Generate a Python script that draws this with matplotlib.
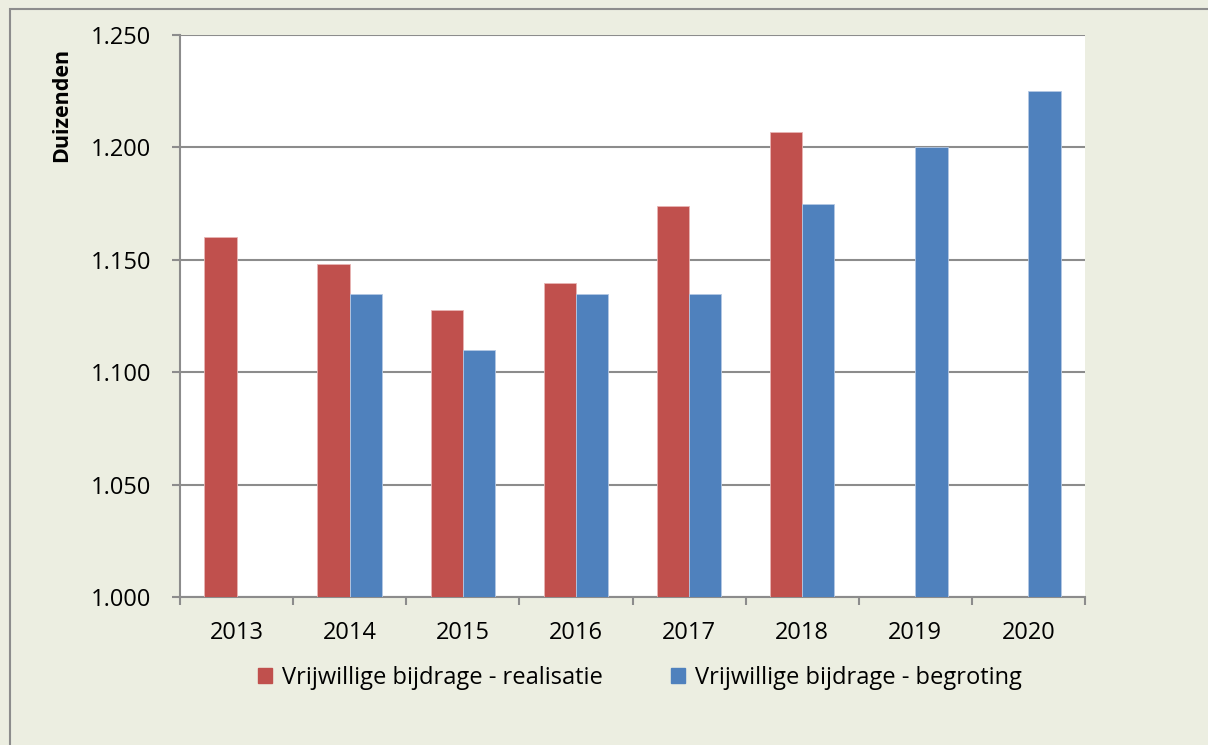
import matplotlib
matplotlib.use("Agg")
from matplotlib import pyplot as plt
import matplotlib.patches as mpatches
import numpy as np

years = ["2013", "2014", "2015", "2016", "2017", "2018", "2019", "2020"]
realisatie = [1.160, 1.148, 1.1275, 1.1395, 1.174, 1.207, np.nan, np.nan]
begroting = [np.nan, 1.135, 1.110, 1.135, 1.135, 1.175, 1.200, 1.225]
yticks = [1.000, 1.050, 1.100, 1.150, 1.200, 1.250]
ytick_labels = ["1.000", "1.050", "1.100", "1.150", "1.200", "1.250"]

plt.rcParams["font.family"] = ["Open Sans", "DejaVu Sans"]
bg = "#ECEEE1"
red = "#C0504D"
blue = "#4F81BD"

fig = plt.figure(figsize=(12.08, 7.45), dpi=100, facecolor=bg)
# border of the chart area
fig.add_artist(mpatches.Rectangle((10 / 1208, -0.1), 1.2, 1 - 9 / 745 + 0.1,
                                  transform=fig.transFigure, fill=False,
                                  edgecolor="#8C8C8C", lw=1.5))

ax = fig.add_axes([180 / 1208, 1 - 597 / 745, 905 / 1208, 562 / 745])
ax.set_facecolor("white")

x = np.arange(len(years))
w = 0.285
ax.bar(x - w / 2, realisatie, w, color=red, edgecolor="#E8B5B4", lw=0.6,
       zorder=3, label="Vrijwillige bijdrage - realisatie")
ax.bar(x + w / 2, begroting, w, color=blue, edgecolor="#B4C8E4", lw=0.6,
       zorder=3, label="Vrijwillige bijdrage - begroting")

ax.set_ylim(1.0, 1.25)
ax.set_xlim(-0.5, len(years) - 0.5)
ax.set_yticks(yticks)
ax.set_yticklabels(ytick_labels)
ax.yaxis.grid(True, color="#8C8C8C", lw=1.5, zorder=0)
ax.set_axisbelow(True)

ax.set_xticks(x)
ax.set_xticklabels(years)
ax.set_xticks(np.arange(-0.5, len(years)), minor=True)
ax.tick_params(axis="x", which="major", length=0, pad=17, labelsize=17)
ax.tick_params(axis="x", which="minor", length=5.8, width=1.5, color="#8C8C8C", direction="out")
ax.tick_params(axis="y", length=5.8, width=1.5, color="#8C8C8C", labelsize=17, pad=15)

for s in ["top", "right"]:
    ax.spines[s].set_visible(False)
for s in ["left", "bottom"]:
    ax.spines[s].set_color("#8C8C8C")
    ax.spines[s].set_linewidth(1.5)

fig.text(62 / 1208, 1 - 105 / 745, "Duizenden", rotation=90, ha="center", va="center",
         fontsize=15.5, fontweight="bold")

handles = [mpatches.Patch(color=red), mpatches.Patch(color=blue)]
fig.legend(handles, ["Vrijwillige bijdrage - realisatie", "Vrijwillige bijdrage - begroting"],
           loc="center", bbox_to_anchor=(640 / 1208, 1 - 678 / 745), ncol=2, frameon=False,
           fontsize=17, handlelength=0.6, handleheight=0.6, handletextpad=0.4, columnspacing=2.9)

plt.savefig("out.png", dpi=100, facecolor=bg)
